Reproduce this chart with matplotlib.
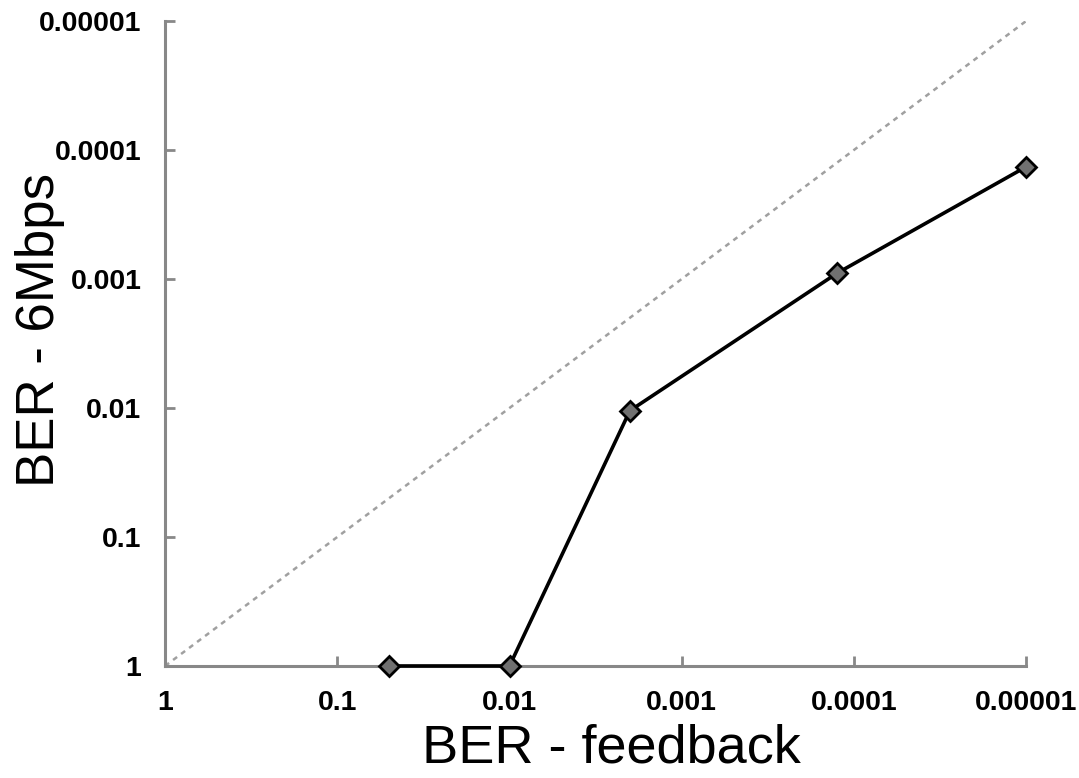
import matplotlib.pyplot as plt

plt.rcParams['font.family'] = ['Liberation Sans', 'DejaVu Sans']

# tick values and labels (both axes share them)
tick_vals = [1, 0.1, 0.01, 0.001, 0.0001, 0.00001]
tick_labels = ["1", "0.1", "0.01", "0.001", "0.0001", "0.00001"]

# measured BER values
ber_feedback = [0.05, 0.01, 0.002, 0.000125, 0.00001]
ber_6mbps = [1, 1, 0.0105, 0.0009, 0.000135]

fig = plt.figure(figsize=(10.79, 7.78), dpi=100)
ax = fig.add_axes([0.153, 0.144, 0.798, 0.829])

ax.plot(tick_vals, tick_vals, ls=(0, (2, 2)), c="#a0a0a0", lw=1.8, zorder=1)
ax.plot(ber_feedback, ber_6mbps, c="k", lw=2.6, marker="D", ms=10,
        mfc="#707070", mec="k", mew=2, zorder=3, clip_on=False)

ax.set_xscale("log")
ax.set_yscale("log")
ax.set_xlim(1, 0.00001)
ax.set_ylim(1, 0.00001)
ax.minorticks_off()
ax.set_xticks(tick_vals)
ax.set_xticklabels(tick_labels)
ax.set_yticks(tick_vals)
ax.set_yticklabels(tick_labels)

for s in ["top", "right"]:
    ax.spines[s].set_visible(False)
for s in ["left", "bottom"]:
    ax.spines[s].set_color("#888888")
    ax.spines[s].set_linewidth(2.2)

ax.tick_params(direction="in", length=7, width=2, color="#888888",
               labelsize=20.5, pad=17)
for lab in ax.get_xticklabels() + ax.get_yticklabels():
    lab.set_fontweight("bold")

# axis titles placed as figure text
fig.text(0.567, 0.02, "BER - feedback", fontsize=39, ha="center", va="baseline")
fig.text(0.037, 0.576, "BER - 6Mbps", fontsize=38, rotation=90,
         ha="center", va="center")

fig.savefig("out.png", dpi=100)
